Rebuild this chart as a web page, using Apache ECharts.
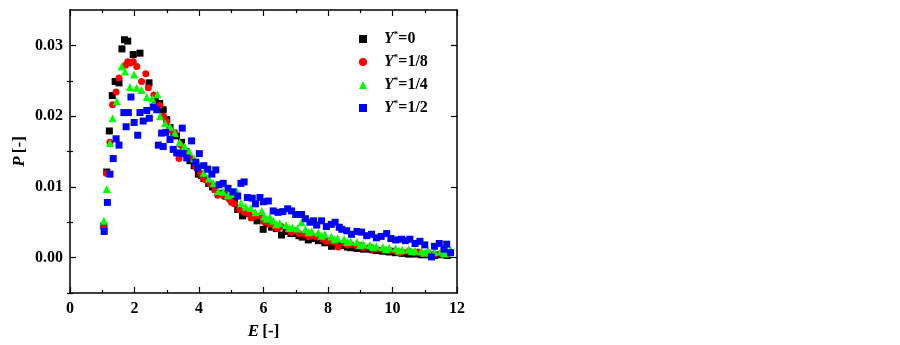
<!DOCTYPE html>
<html>
<head>
<meta charset="utf-8">
<script src="https://cdn.jsdelivr.net/npm/echarts@6/dist/echarts.min.js"></script>
<style>
html,body{margin:0;padding:0;background:#fff;}
#chart{width:900px;height:345px;}
</style>
</head>
<body>
<div id="chart"></div>
<script>
// ---- data ----
const seriesNames = ['Y*=0', 'Y*=1/8', 'Y*=1/4', 'Y*=1/2'];
const legendTails = ['=0', '=1/8', '=1/4', '=1/2'];
const xTicks = [0, 2, 4, 6, 8, 10, 12];
const yTicksMajor = [0, 0.01, 0.02, 0.03];
const yTicksMinor = [-0.005, 0.005, 0.015, 0.025];

const dataY0 = [[1.05,0.0045],[1.14,0.0121],[1.22,0.0179],[1.31,0.0229],[1.40,0.0249],[1.52,0.0247],[1.61,0.0295],[1.69,0.0308],[1.79,0.0306],[1.96,0.0287],[2.17,0.0289],[2.45,0.0247],[2.64,0.0224],[2.78,0.0218],[2.89,0.0209],[3.0,0.0195],[3.10,0.0184],[3.22,0.0176],[3.30,0.0172],[3.46,0.0163],[3.60,0.0150],[3.72,0.0137],[3.85,0.0130],[3.98,0.0118],[4.08,0.0116],[4.15,0.0112],[4.3,0.0105],[4.42,0.0100],[4.5,0.0097],[4.65,0.0091],[4.8,0.0088],[4.95,0.0085],[5.02,0.0080],[5.1,0.0078],[5.2,0.0068],[5.35,0.0059],[5.5,0.0062],[5.65,0.0057],[5.8,0.0052],[5.99,0.0040],[6.1,0.0048],[6.25,0.0043],[6.4,0.0041],[6.56,0.0032],[6.7,0.0037],[6.85,0.0034],[7.0,0.0034],[7.1,0.0031],[7.2,0.0029],[7.39,0.0025],[7.55,0.0027],[7.7,0.0024],[7.8,0.0025],[7.9,0.0021],[8.11,0.0016],[8.2,0.0020],[8.3,0.0018],[8.5,0.0017],[8.6,0.0015],[8.7,0.0014],[8.9,0.0013],[9.0,0.0014],[9.1,0.0012],[9.3,0.0012],[9.4,0.0011],[9.5,0.0010],[9.7,0.0009],[9.9,0.0008],[10.0,0.0009],[10.1,0.0007],[10.3,0.0006],[10.5,0.0005],[10.6,0.0006],[10.7,0.0005],[10.9,0.0004],[11.1,0.0004],[11.3,0.0003],[11.5,0.0004],[11.7,0.0003]];

const dataY18 = [[1.05,0.0042],[1.14,0.0119],[1.24,0.0163],[1.32,0.0216],[1.43,0.0234],[1.52,0.0254],[1.72,0.0272],[1.79,0.0277],[1.88,0.0275],[1.96,0.0277],[2.07,0.0270],[2.22,0.0249],[2.35,0.0260],[2.43,0.0240],[2.6,0.0230],[2.79,0.0215],[2.9,0.0200],[3.0,0.0192],[3.1,0.0181],[3.25,0.0175],[3.38,0.0140],[3.42,0.0160],[3.5,0.0156],[3.62,0.0146],[3.75,0.0140],[3.9,0.0128],[4.05,0.0119],[4.12,0.0113],[4.2,0.0110],[4.35,0.0104],[4.5,0.0096],[4.58,0.0088],[4.65,0.0090],[4.8,0.0086],[4.95,0.0082],[5.02,0.0078],[5.1,0.0076],[5.25,0.0068],[5.4,0.0064],[5.55,0.0062],[5.62,0.0056],[5.7,0.0058],[5.89,0.0059],[6.0,0.0051],[6.1,0.0050],[6.2,0.0047],[6.36,0.0043],[6.45,0.0041],[6.55,0.0044],[6.77,0.0040],[6.85,0.0036],[6.95,0.0038],[7.1,0.0034],[7.3,0.0033],[7.4,0.0030],[7.5,0.0031],[7.65,0.0029],[7.85,0.0026],[7.95,0.0023],[8.05,0.0024],[8.2,0.0022],[8.32,0.0015],[8.5,0.0021],[8.6,0.0018],[8.7,0.0019],[8.9,0.0016],[9.0,0.0017],[9.1,0.0014],[9.3,0.0015],[9.4,0.0012],[9.5,0.0012],[9.7,0.0011],[9.9,0.0010],[10.1,0.0009],[10.2,0.0007],[10.3,0.0008],[10.5,0.0009],[10.7,0.0007],[10.8,0.0008],[10.9,0.0006],[11.1,0.0007],[11.3,0.0005],[11.5,0.0006],[11.7,0.0005]];

const dataY14 = [[1.05,0.0052],[1.14,0.0097],[1.24,0.0162],[1.32,0.0197],[1.45,0.0221],[1.60,0.0270],[1.71,0.0263],[1.86,0.0241],[1.99,0.0259],[2.07,0.0240],[2.22,0.0237],[2.38,0.0227],[2.55,0.0225],[2.64,0.0213],[2.71,0.0231],[2.79,0.0200],[2.95,0.0190],[3.1,0.0185],[3.25,0.0176],[3.4,0.0163],[3.55,0.0157],[3.7,0.0150],[3.85,0.0140],[4.0,0.0132],[4.15,0.0120],[4.3,0.0112],[4.45,0.0105],[4.6,0.0094],[4.75,0.0093],[4.9,0.0088],[5.05,0.0090],[5.17,0.0094],[5.3,0.0077],[5.45,0.0072],[5.6,0.0070],[5.75,0.0064],[5.95,0.0066],[6.02,0.0058],[6.1,0.0055],[6.2,0.0057],[6.3,0.0052],[6.4,0.0047],[6.5,0.0049],[6.7,0.0046],[6.8,0.0042],[6.9,0.0043],[7.05,0.0041],[7.18,0.0050],[7.3,0.0040],[7.4,0.0036],[7.5,0.0037],[7.7,0.0035],[7.8,0.0031],[7.9,0.0033],[8.1,0.0030],[8.2,0.0026],[8.3,0.0027],[8.5,0.0026],[8.6,0.0022],[8.7,0.0023],[8.9,0.0022],[9.0,0.0018],[9.1,0.0019],[9.3,0.0018],[9.4,0.0015],[9.5,0.0016],[9.7,0.0015],[9.8,0.0012],[9.9,0.0014],[10.1,0.0013],[10.2,0.0010],[10.3,0.0011],[10.5,0.0012],[10.6,0.0009],[10.7,0.0010],[10.9,0.0009],[11.0,0.0007],[11.1,0.0010],[11.3,0.0008],[11.5,0.0009],[11.6,0.0006],[11.7,0.0007],[11.8,0.0011]];

const dataY12 = [[1.06,0.0037],[1.16,0.0078],[1.24,0.0118],[1.34,0.0140],[1.43,0.0168],[1.52,0.0159],[1.67,0.0205],[1.74,0.0185],[1.81,0.0205],[1.89,0.0227],[1.99,0.0191],[2.10,0.0173],[2.17,0.0205],[2.27,0.0193],[2.38,0.0208],[2.46,0.0197],[2.58,0.0213],[2.69,0.0209],[2.74,0.0159],[2.84,0.0176],[2.89,0.0157],[2.97,0.0177],[3.10,0.0167],[3.20,0.0153],[3.31,0.0148],[3.48,0.0183],[3.49,0.0147],[3.62,0.0141],[3.77,0.0165],[3.90,0.0135],[3.96,0.0127],[4.01,0.0147],[4.15,0.0130],[4.27,0.0125],[4.40,0.0118],[4.52,0.0124],[4.62,0.0103],[4.75,0.0105],[4.90,0.0098],[5.05,0.0093],[5.2,0.0087],[5.30,0.0105],[5.40,0.0107],[5.5,0.0085],[5.65,0.0084],[5.75,0.0076],[5.89,0.0085],[6.0,0.0079],[6.15,0.0080],[6.3,0.0066],[6.45,0.0064],[6.6,0.0065],[6.75,0.0069],[6.87,0.0066],[7.0,0.0061],[7.18,0.0061],[7.3,0.0055],[7.44,0.0050],[7.55,0.0052],[7.65,0.0046],[7.80,0.0052],[7.95,0.0044],[8.1,0.0047],[8.22,0.0050],[8.35,0.0043],[8.43,0.0040],[8.58,0.0038],[8.73,0.0033],[8.9,0.0037],[9.04,0.0036],[9.2,0.0031],[9.35,0.0033],[9.5,0.0028],[9.65,0.0030],[9.82,0.0034],[9.95,0.0027],[10.1,0.0025],[10.28,0.0026],[10.4,0.0024],[10.54,0.0026],[10.7,0.0020],[10.85,0.0023],[11.0,0.0018],[11.21,0.0001],[11.3,0.0016],[11.45,0.0020],[11.6,0.0012],[11.68,0.0019],[11.8,0.0007]];

const seriesData = [dataY0, dataY18, dataY14, dataY12];
const seriesColors = ['#000000', '#ff0000', '#00ff00', '#0000ff'];
const seriesSymbols = ['rect', 'circle', 'triangle', 'rect'];
const seriesSizes = [7, 7, 8, 7];

// ---- chart ----
const FONT = '"Liberation Serif", "Times New Roman", serif';
const chart = echarts.init(document.getElementById('chart'), null, {renderer: 'canvas'});

const axisLine = {show: true, onZero: false, lineStyle: {color: '#000', width: 1.5}};

const legendRich = {
  i: {fontFamily: FONT, fontWeight: 'bold', fontStyle: 'italic', fontSize: 16, color: '#000', lineHeight: 18},
  s: {fontFamily: FONT, fontWeight: 'bold', fontSize: 9, color: '#000', verticalAlign: 'top', lineHeight: 18, padding: [0, 0, 6, 0]},
  n: {fontFamily: FONT, fontWeight: 'bold', fontSize: 16, color: '#000', lineHeight: 18}
};

const option = {
  backgroundColor: '#ffffff',
  animation: false,
  grid: {left: 70, top: 10, width: 387, height: 284, containLabel: false},
  legend: {
    orient: 'vertical',
    left: 354,
    top: 25,
    itemWidth: 8,
    itemHeight: 8,
    itemGap: 6,
    data: seriesNames.map((n, i) => ({name: n, icon: seriesSymbols[i]})),
    formatter: function (name) {
      const i = seriesNames.indexOf(name);
      return '{i|Y}{s|*}{n|' + legendTails[i] + '}';
    },
    textStyle: {padding: [0, 0, 0, 12], rich: legendRich}
  },
  xAxis: [
    {
      type: 'value', position: 'bottom', min: xTicks[0], max: xTicks[xTicks.length - 1], interval: 2,
      name: '{i|E} {n|[-]}', nameLocation: 'middle', nameGap: 30,
      nameTextStyle: {rich: {
        i: {fontFamily: FONT, fontWeight: 'bold', fontStyle: 'italic', fontSize: 17, color: '#000'},
        n: {fontFamily: FONT, fontWeight: 'bold', fontSize: 17, color: '#000'}
      }},
      axisLine: axisLine,
      axisTick: {show: true, inside: true, length: 6, lineStyle: {color: '#000', width: 1.2}},
      minorTick: {show: true, splitNumber: 2, length: 3, lineStyle: {color: '#000', width: 1.2}},
      axisLabel: {show: true, margin: 8, fontFamily: FONT, fontWeight: 'bold', fontSize: 16, color: '#000'},
      splitLine: {show: false}, minorSplitLine: {show: false}
    },
    {
      type: 'value', position: 'top', min: 0, max: 12, interval: 2,
      axisLine: axisLine,
      axisTick: {show: true, inside: true, length: 6, lineStyle: {color: '#000', width: 1.2}},
      minorTick: {show: true, splitNumber: 2, length: 3, lineStyle: {color: '#000', width: 1.2}},
      axisLabel: {show: false}, splitLine: {show: false}
    }
  ],
  yAxis: [
    {
      type: 'value', position: 'left', min: -0.005, max: 0.035,
      name: '{i|P} {n|[-]}', nameLocation: 'middle', nameGap: 42, nameRotate: 90,
      nameTextStyle: {rich: {
        i: {fontFamily: FONT, fontWeight: 'bold', fontStyle: 'italic', fontSize: 17, color: '#000'},
        n: {fontFamily: FONT, fontWeight: 'bold', fontSize: 17, color: '#000'}
      }},
      axisLine: axisLine,
      axisTick: {show: true, inside: true, length: 6, customValues: yTicksMajor, lineStyle: {color: '#000', width: 1.2}},
      axisLabel: {show: true, margin: 7, customValues: yTicksMajor, fontFamily: FONT, fontWeight: 'bold', fontSize: 16, color: '#000',
        formatter: v => v.toFixed(2)},
      splitLine: {show: false}
    },
    {
      type: 'value', position: 'left', min: -0.005, max: 0.035,
      axisLine: {show: false},
      axisTick: {show: true, inside: true, length: 3, customValues: yTicksMinor, lineStyle: {color: '#000', width: 1.2}},
      axisLabel: {show: false}, splitLine: {show: false}
    },
    {
      type: 'value', position: 'right', min: -0.005, max: 0.035,
      axisLine: axisLine,
      axisTick: {show: true, inside: true, length: 6, customValues: yTicksMajor, lineStyle: {color: '#000', width: 1.2}},
      axisLabel: {show: false}, splitLine: {show: false}
    },
    {
      type: 'value', position: 'right', min: -0.005, max: 0.035,
      axisLine: {show: false},
      axisTick: {show: true, inside: true, length: 3, customValues: yTicksMinor, lineStyle: {color: '#000', width: 1.2}},
      axisLabel: {show: false}, splitLine: {show: false}
    }
  ],
  series: seriesNames.map((n, i) => ({
    name: n,
    type: 'scatter',
    xAxisIndex: 0,
    yAxisIndex: 0,
    symbol: seriesSymbols[i],
    symbolSize: seriesSizes[i],
    itemStyle: {color: seriesColors[i], opacity: 1},
    emphasis: {disabled: true},
    data: seriesData[i]
  }))
};

chart.setOption(option);
</script>
</body>
</html>
